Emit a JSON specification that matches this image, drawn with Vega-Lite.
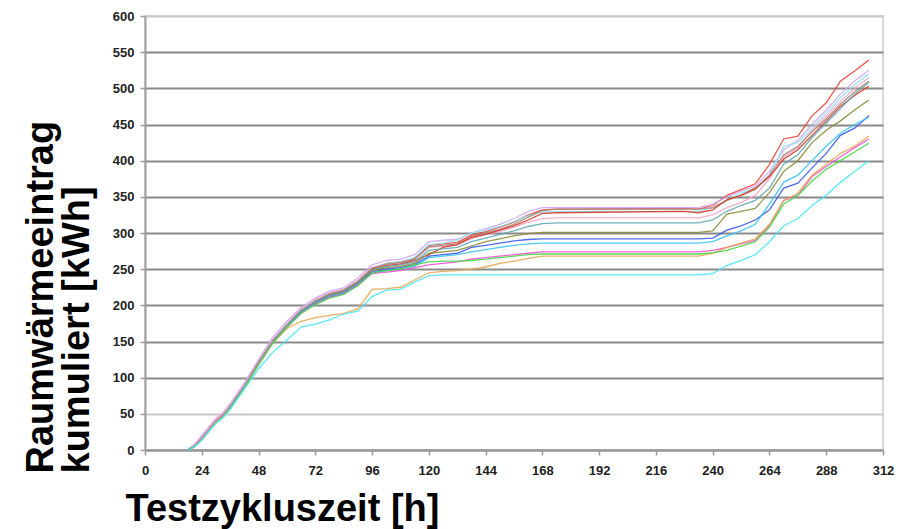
{
  "$schema": "https://vega.github.io/schema/vega-lite/v6.json",
  "width": 738,
  "height": 434,
  "autosize": {"type": "none"},
  "padding": {"left": 145, "top": 16, "right": 19, "bottom": 79},
  "background": "white",
  "config": {"view": {"stroke": "#d8d8d8", "strokeWidth": 2}},
  "data": {"values": [
    {"h": 18, "s1": 0, "s2": 0, "s3": 0, "s4": 0, "s5": 0, "s6": 0, "s7": 0, "s8": 0, "s9": 0, "s10": 0, "s11": 0, "s12": 0, "s13": 0, "s14": 0},
    {"h": 21, "s1": 6, "s2": 8, "s3": 6, "s4": 7, "s5": 6, "s6": 5, "s7": 6, "s8": 5, "s9": 5, "s10": 5, "s11": 6, "s12": 5, "s13": 5, "s14": 5},
    {"h": 24, "s1": 16, "s2": 20, "s3": 17, "s4": 18, "s5": 16, "s6": 15, "s7": 16, "s8": 15, "s9": 14, "s10": 15, "s11": 16, "s12": 15, "s13": 14, "s14": 14},
    {"h": 27, "s1": 28, "s2": 32, "s3": 29, "s4": 30, "s5": 28, "s6": 27, "s7": 28, "s8": 27, "s9": 26, "s10": 27, "s11": 28, "s12": 27, "s13": 26, "s14": 26},
    {"h": 30, "s1": 40, "s2": 44, "s3": 41, "s4": 42, "s5": 40, "s6": 39, "s7": 40, "s8": 39, "s9": 38, "s10": 39, "s11": 40, "s12": 39, "s13": 38, "s14": 37},
    {"h": 33, "s1": 48, "s2": 52, "s3": 49, "s4": 50, "s5": 48, "s6": 47, "s7": 48, "s8": 47, "s9": 46, "s10": 47, "s11": 48, "s12": 47, "s13": 46, "s14": 45},
    {"h": 36, "s1": 60, "s2": 64, "s3": 61, "s4": 62, "s5": 60, "s6": 59, "s7": 60, "s8": 59, "s9": 58, "s10": 59, "s11": 59, "s12": 58, "s13": 58, "s14": 56},
    {"h": 42, "s1": 88, "s2": 93, "s3": 89, "s4": 90, "s5": 88, "s6": 87, "s7": 88, "s8": 87, "s9": 86, "s10": 87, "s11": 87, "s12": 86, "s13": 86, "s14": 84},
    {"h": 48, "s1": 120, "s2": 125, "s3": 122, "s4": 123, "s5": 121, "s6": 119, "s7": 120, "s8": 119, "s9": 118, "s10": 119, "s11": 119, "s12": 118, "s13": 118, "s14": 112},
    {"h": 54, "s1": 150, "s2": 156, "s3": 152, "s4": 153, "s5": 151, "s6": 149, "s7": 150, "s8": 149, "s9": 148, "s10": 149, "s11": 149, "s12": 148, "s13": 148, "s14": 135},
    {"h": 60, "s1": 172, "s2": 178, "s3": 174, "s4": 175, "s5": 173, "s6": 171, "s7": 172, "s8": 171, "s9": 170, "s10": 171, "s11": 170, "s12": 168, "s13": 170, "s14": 152},
    {"h": 66, "s1": 192, "s2": 197, "s3": 194, "s4": 195, "s5": 193, "s6": 191, "s7": 192, "s8": 191, "s9": 190, "s10": 190, "s11": 189, "s12": 178, "s13": 189, "s14": 170},
    {"h": 72, "s1": 205, "s2": 210, "s3": 207, "s4": 208, "s5": 206, "s6": 204, "s7": 205, "s8": 204, "s9": 203, "s10": 203, "s11": 202, "s12": 183, "s13": 201, "s14": 174},
    {"h": 78, "s1": 215, "s2": 220, "s3": 217, "s4": 218, "s5": 216, "s6": 214, "s7": 214, "s8": 213, "s9": 212, "s10": 212, "s11": 211, "s12": 186, "s13": 210, "s14": 180},
    {"h": 84, "s1": 220, "s2": 224, "s3": 222, "s4": 222, "s5": 221, "s6": 219, "s7": 219, "s8": 218, "s9": 217, "s10": 217, "s11": 216, "s12": 189, "s13": 215, "s14": 188},
    {"h": 90, "s1": 232, "s2": 238, "s3": 234, "s4": 235, "s5": 233, "s6": 231, "s7": 231, "s8": 230, "s9": 229, "s10": 229, "s11": 228, "s12": 195, "s13": 227, "s14": 192},
    {"h": 96, "s1": 250, "s2": 256, "s3": 252, "s4": 253, "s5": 251, "s6": 249, "s7": 249, "s8": 248, "s9": 246, "s10": 245, "s11": 244, "s12": 222, "s13": 245, "s14": 212},
    {"h": 102, "s1": 258, "s2": 262, "s3": 258, "s4": 256, "s5": 257, "s6": 255, "s7": 254, "s8": 252, "s9": 250, "s10": 248, "s11": 246, "s12": 223, "s13": 248, "s14": 221},
    {"h": 108, "s1": 260, "s2": 264, "s3": 260, "s4": 258, "s5": 259, "s6": 257, "s7": 256, "s8": 254, "s9": 252, "s10": 250, "s11": 248, "s12": 225, "s13": 250, "s14": 222},
    {"h": 114, "s1": 265, "s2": 270, "s3": 266, "s4": 263, "s5": 264, "s6": 262, "s7": 260, "s8": 258, "s9": 256, "s10": 254, "s11": 252, "s12": 235, "s13": 256, "s14": 232},
    {"h": 120, "s1": 283, "s2": 288, "s3": 284, "s4": 280, "s5": 281, "s6": 270, "s7": 276, "s8": 272, "s9": 268, "s10": 266, "s11": 256, "s12": 245, "s13": 260, "s14": 241},
    {"h": 126, "s1": 285, "s2": 290, "s3": 286, "s4": 282, "s5": 283, "s6": 280, "s7": 278, "s8": 274, "s9": 270, "s10": 268, "s11": 258, "s12": 247, "s13": 261, "s14": 242},
    {"h": 132, "s1": 287, "s2": 291, "s3": 290, "s4": 284, "s5": 285, "s6": 284, "s7": 280, "s8": 276, "s9": 272, "s10": 270, "s11": 260, "s12": 248, "s13": 261, "s14": 242},
    {"h": 138, "s1": 297, "s2": 300, "s3": 300, "s4": 292, "s5": 295, "s6": 294, "s7": 288, "s8": 282, "s9": 280, "s10": 274, "s11": 264, "s12": 250, "s13": 262, "s14": 242},
    {"h": 144, "s1": 302, "s2": 306, "s3": 304, "s4": 298, "s5": 300, "s6": 298, "s7": 293, "s8": 288, "s9": 283, "s10": 277, "s11": 266, "s12": 253, "s13": 264, "s14": 242},
    {"h": 150, "s1": 308, "s2": 312, "s3": 309, "s4": 302, "s5": 305, "s6": 304, "s7": 298, "s8": 292, "s9": 286, "s10": 280, "s11": 268, "s12": 258, "s13": 266, "s14": 242},
    {"h": 156, "s1": 315, "s2": 320, "s3": 316, "s4": 308, "s5": 312, "s6": 310, "s7": 303, "s8": 296, "s9": 289, "s10": 283, "s11": 270, "s12": 261, "s13": 268, "s14": 242},
    {"h": 162, "s1": 325, "s2": 330, "s3": 324, "s4": 315, "s5": 322, "s6": 318, "s7": 309, "s8": 299, "s9": 291, "s10": 285, "s11": 272, "s12": 265, "s13": 270, "s14": 242},
    {"h": 168, "s1": 332, "s2": 335, "s3": 329, "s4": 320, "s5": 331, "s6": 327, "s7": 313, "s8": 301, "s9": 292, "s10": 286, "s11": 274, "s12": 268, "s13": 271, "s14": 242},
    {"h": 174, "s1": 333, "s2": 335, "s3": 330, "s4": 321, "s5": 333, "s6": 328, "s7": 314, "s8": 301, "s9": 292, "s10": 286, "s11": 274, "s12": 268, "s13": 271, "s14": 242},
    {"h": 228, "s1": 334, "s2": 335, "s3": 330, "s4": 321, "s5": 333, "s6": 330, "s7": 314, "s8": 301, "s9": 292, "s10": 286, "s11": 274, "s12": 268, "s13": 271, "s14": 242},
    {"h": 234, "s1": 333, "s2": 335, "s3": 330, "s4": 321, "s5": 333, "s6": 328, "s7": 314, "s8": 301, "s9": 292, "s10": 286, "s11": 274, "s12": 268, "s13": 271, "s14": 242},
    {"h": 240, "s1": 338, "s2": 340, "s3": 335, "s4": 325, "s5": 335, "s6": 332, "s7": 318, "s8": 303, "s9": 293, "s10": 288, "s11": 276, "s12": 272, "s13": 273, "s14": 244},
    {"h": 246, "s1": 352, "s2": 350, "s3": 345, "s4": 335, "s5": 345, "s6": 346, "s7": 330, "s8": 326, "s9": 304, "s10": 296, "s11": 280, "s12": 280, "s13": 276, "s14": 255},
    {"h": 252, "s1": 360, "s2": 358, "s3": 355, "s4": 342, "s5": 352, "s6": 352, "s7": 338, "s8": 330, "s9": 310, "s10": 303, "s11": 285, "s12": 286, "s13": 282, "s14": 262},
    {"h": 258, "s1": 368, "s2": 365, "s3": 362, "s4": 352, "s5": 360, "s6": 362, "s7": 345, "s8": 334, "s9": 318, "s10": 312, "s11": 290, "s12": 292, "s13": 288, "s14": 270},
    {"h": 264, "s1": 395, "s2": 385, "s3": 380, "s4": 375, "s5": 380, "s6": 378, "s7": 362, "s8": 356, "s9": 332, "s10": 340, "s11": 310, "s12": 312, "s13": 308, "s14": 288},
    {"h": 270, "s1": 430, "s2": 415, "s3": 420, "s4": 405, "s5": 408, "s6": 402, "s7": 395, "s8": 385, "s9": 362, "s10": 370, "s11": 345, "s12": 345, "s13": 340, "s14": 310},
    {"h": 276, "s1": 434, "s2": 428, "s3": 425, "s4": 418, "s5": 420, "s6": 415, "s7": 408, "s8": 400, "s9": 369, "s10": 380, "s11": 352, "s12": 355, "s13": 352, "s14": 320},
    {"h": 282, "s1": 462, "s2": 450, "s3": 445, "s4": 442, "s5": 440, "s6": 435, "s7": 432, "s8": 425, "s9": 390, "s10": 400, "s11": 378, "s12": 380, "s13": 372, "s14": 338},
    {"h": 288, "s1": 480, "s2": 470, "s3": 466, "s4": 462, "s5": 458, "s6": 455, "s7": 452, "s8": 442, "s9": 410, "s10": 420, "s11": 392, "s12": 395, "s13": 388, "s14": 352},
    {"h": 294, "s1": 510, "s2": 492, "s3": 487, "s4": 482, "s5": 478, "s6": 475, "s7": 472, "s8": 455, "s9": 435, "s10": 438, "s11": 405, "s12": 410, "s13": 400, "s14": 370},
    {"h": 300, "s1": 524, "s2": 510, "s3": 505, "s4": 500, "s5": 495, "s6": 490, "s7": 492, "s8": 470, "s9": 445, "s10": 450, "s11": 418, "s12": 420, "s13": 412, "s14": 385},
    {"h": 306, "s1": 539, "s2": 525, "s3": 520, "s4": 515, "s5": 510, "s6": 503, "s7": 508, "s8": 484, "s9": 462, "s10": 460, "s11": 430, "s12": 434, "s13": 424, "s14": 400}
  ]},
  "transform": [
    {"fold": ["s1", "s2", "s3", "s4", "s5", "s6", "s7", "s8", "s9", "s10", "s11", "s12", "s13", "s14"], "as": ["series", "v"]}
  ],
  "mark": {"type": "line", "strokeWidth": 1.3, "opacity": 0.9},
  "encoding": {
    "x": {
      "field": "h",
      "type": "quantitative",
      "scale": {"domain": [0, 312], "nice": false},
      "axis": {
        "values": [0, 24, 48, 72, 96, 120, 144, 168, 192, 216, 240, 264, 288, 312],
        "grid": false,
        "domainColor": "#999999",
        "domainWidth": 2,
        "tickColor": "#999999",
        "tickWidth": 1.5,
        "tickSize": 5,
        "labelFont": "Liberation Sans, Arial, sans-serif",
        "labelFontWeight": "bold",
        "labelFontSize": 13,
        "labelColor": "#222222",
        "labelPadding": 9,
        "labelFlush": false,
        "labelOverlap": false,
        "title": "Testzykluszeit [h]",
        "titleFont": "Liberation Sans, Arial, sans-serif",
        "titleFontSize": 38,
        "titleFontWeight": "bold",
        "titleColor": "#000000",
        "titleAlign": "left",
        "titleBaseline": "alphabetic",
        "titleX": -20,
        "titleY": 70
      }
    },
    "y": {
      "field": "v",
      "type": "quantitative",
      "scale": {"domain": [0, 600], "nice": false},
      "axis": {
        "values": [0, 50, 100, 150, 200, 250, 300, 350, 400, 450, 500, 550, 600],
        "grid": true,
        "gridColor": {"condition": {"test": "datum.value === 50 || datum.value === 600", "value": "#c8c8c8"}, "value": "#8a8a8a"},
        "gridWidth": 2,
        "domainColor": "#a0a0a0",
        "domainWidth": 2,
        "tickColor": "#999999",
        "tickWidth": 1.5,
        "tickSize": 5,
        "labelFont": "Liberation Sans, Arial, sans-serif",
        "labelFontWeight": "bold",
        "labelFontSize": 13,
        "labelColor": "#222222",
        "labelPadding": 6,
        "labelOverlap": false,
        "title": ["Raumwärmeeintrag", "kumuliert [kWh]"],
        "titleFont": "Liberation Sans, Arial, sans-serif",
        "titleFontSize": 38,
        "titleFontWeight": "bold",
        "titleColor": "#000000",
        "titleAngle": -90,
        "titleAlign": "left",
        "titleBaseline": "top",
        "titleLineHeight": 36,
        "titleX": -123,
        "titleY": 457
      }
    },
    "color": {
      "field": "series",
      "type": "nominal",
      "scale": {
        "domain": ["s1", "s2", "s3", "s4", "s5", "s6", "s7", "s8", "s9", "s10", "s11", "s12", "s13", "s14"],
        "range": ["#e8453c", "#d0a8f4", "#90e4f4", "#f4a4cc", "#a88878", "#d83828", "#5ea8b4", "#8c8c3c", "#3a5cf0", "#38c4f4", "#f050d8", "#e8a850", "#48d848", "#48e8f4"]
      },
      "legend": null
    }
  }
}
